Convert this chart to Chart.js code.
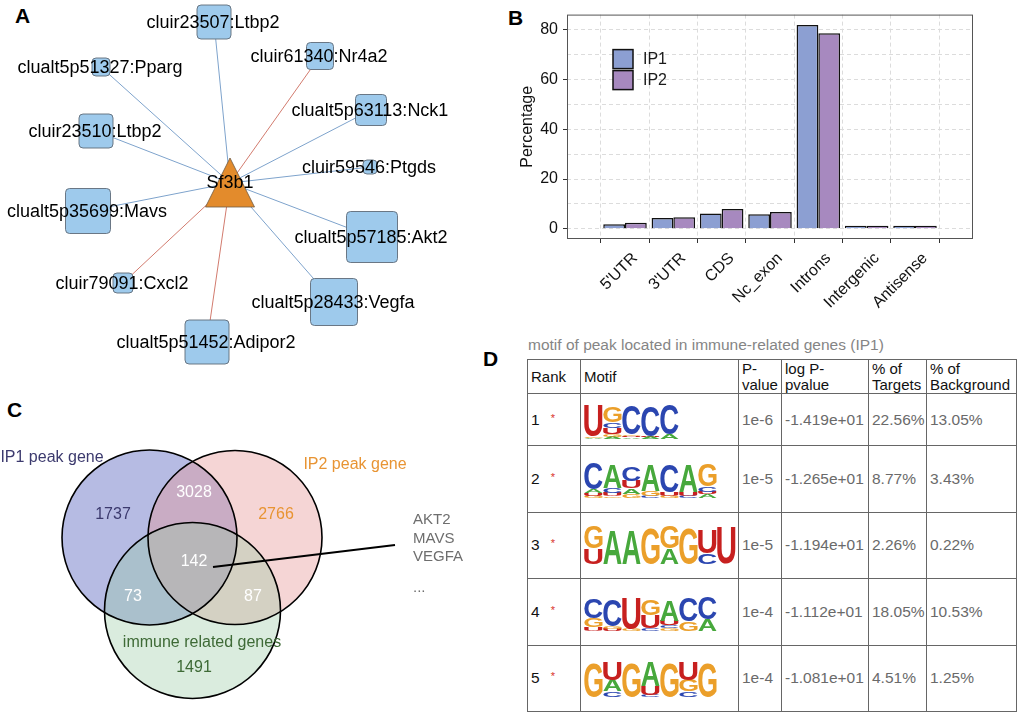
<!DOCTYPE html>
<html>
<head>
<meta charset="utf-8">
<script src="https://cdn.jsdelivr.net/npm/chart.js@4.4.1/dist/chart.umd.min.js"></script>
<style>
  html, body { margin: 0; padding: 0; background: #fff; width: 1017px; height: 712px; overflow: hidden;
    font-family: "Liberation Sans", Arial, Helvetica, sans-serif; }
  canvas { position: absolute; display: block; }
  .tag { position: absolute; font-weight: bold; font-size: 21px; line-height: 1; color: #000; }
  #motif-title { position: absolute; left: 528px; top: 337px; font-size: 15.5px; line-height: 15px; color: #858585; white-space: nowrap; }
  #motif-table { position: absolute; left: 527px; top: 359px; border-collapse: collapse; table-layout: fixed; font-size: 15.5px; }
  #motif-table td { border: 1.5px solid #666; padding: 0 0 0 3px; vertical-align: middle; white-space: nowrap; overflow: hidden; color: #6a6a6a; }
  #motif-table tr.head td { color: #111; line-height: 16px; font-size: 15px; }
  #motif-table td.rank { color: #111; }
  #motif-table td.logo canvas { position: static; }
  .star { color: #d9342b; font-size: 11px; margin-left: 11px; position: relative; top: -3px; }
</style>
</head>
<body>
<div class="tag" style="left:15px;top:5px">A</div>
<div class="tag" style="left:508px;top:7px">B</div>
<div class="tag" style="left:7px;top:399px">C</div>
<div class="tag" style="left:483px;top:348px">D</div>

<canvas id="net" width="470" height="370" style="left:0;top:0"></canvas>
<canvas id="venn" width="500" height="342" style="left:0;top:370px"></canvas>
<canvas id="bars" width="517" height="330" style="left:500px;top:0"></canvas>

<div id="motif-title">motif of peak located in immune-related genes (IP1)</div>
<table id="motif-table">
  <colgroup>
    <col style="width:53px"><col style="width:158px"><col style="width:43px">
    <col style="width:87px"><col style="width:58px"><col style="width:90px">
  </colgroup>
  <tbody id="motif-body">
    <tr class="head" style="height:34px">
      <td>Rank</td><td>Motif</td><td>P-<br>value</td><td>log P-<br>pvalue</td><td>% of<br>Targets</td><td>% of<br>Background</td>
    </tr>
  </tbody>
</table>

<script>
// ---- A: network ----
const nodeLabels = ['cluir23507:Ltbp2', 'clualt5p51327:Pparg', 'cluir61340:Nr4a2', 'clualt5p63113:Nck1',
  'cluir23510:Ltbp2', 'cluir59546:Ptgds', 'clualt5p35699:Mavs', 'clualt5p57185:Akt2',
  'cluir79091:Cxcl2', 'clualt5p28433:Vegfa', 'clualt5p51452:Adipor2'];
const nodeX = [214, 101, 320, 371, 96, 370, 88, 372, 123, 334, 207];
const nodeY = [22, 67, 56, 110, 131, 167, 211, 237, 283, 302, 342];
const nodeSize = [34, 18, 27, 31, 34, 14, 45, 51, 20, 47, 44];
const edgeType = ['blue', 'blue', 'red', 'blue', 'blue', 'blue', 'blue', 'blue', 'red', 'blue', 'red'];
const hubLabel = 'Sf3b1';
const hubX = 230, hubY = 183;

// ---- B: peak distribution ----
const regions = ["5'UTR", "3'UTR", 'CDS', 'Nc_exon', 'Introns', 'Intergenic', 'Antisense'];
const ip1Pct = [1.8, 4.3, 6.2, 5.8, 81.9, 0.3, 0.2];
const ip2Pct = [2.4, 4.6, 8.0, 6.8, 78.6, 0.3, 0.2];
const pctTicks = [0, 10, 20, 30, 40, 50, 60, 70, 80];

// ---- C: venn ----
const setNames = ['IP1 peak gene', 'IP2 peak gene', 'immune related genes'];
const circleX = [149.5, 235, 192.5];
const circleY = [537.5, 537.5, 610.5];
const circleR = [87.5, 87, 88];
const regionCounts = [1737, 3028, 2766, 142, 73, 87, 1491];
const countX = [113, 194, 276, 194, 133, 253, 194];
const countY = [515, 493, 515, 562, 597, 597, 668];
const sharedGenes = ['AKT2', 'MAVS', 'VEGFA', '...'];

// ---- D: motif table ----
const motifRank = [1, 2, 3, 4, 5];
const motifPvalue = ['1e-6', '1e-5', '1e-5', '1e-4', '1e-4'];
const motifLogP = ['-1.419e+01', '-1.265e+01', '-1.194e+01', '-1.112e+01', '-1.081e+01'];
const motifTargets = ['22.56%', '8.77%', '2.26%', '18.05%', '4.51%'];
const motifBackground = ['13.05%', '3.43%', '0.22%', '10.53%', '1.25%'];
// letter stacks per position, bottom -> top, heights in bits
const motif1 = [
  [['A', 0.06], ['G', 0.06], ['U', 1.62]],
  [['A', 0.12], ['G', 0.12], ['U', 0.35], ['C', 0.3], ['G', 0.85]],
  [['A', 0.08], ['U', 0.06], ['G', 0.08], ['C', 1.55]],
  [['A', 0.1], ['U', 0.06], ['C', 1.6]],
  [['A', 0.25], ['C', 1.6]],
];
const motif2 = [
  [['G', 0.12], ['U', 0.15], ['A', 0.2], ['C', 1.4]],
  [['G', 0.08], ['U', 0.18], ['C', 0.25], ['A', 1.2]],
  [['G', 0.2], ['A', 0.3], ['U', 0.4], ['C', 0.75]],
  [['C', 0.12], ['G', 0.25], ['A', 1.35]],
  [['G', 0.1], ['U', 0.2], ['C', 1.45]],
  [['C', 0.1], ['U', 0.2], ['A', 1.45]],
  [['A', 0.2], ['U', 0.12], ['C', 0.3], ['G', 1.15]],
];
const motif3 = [
  [['U', 0.8], ['G', 1.15]],
  [['A', 1.8]],
  [['A', 1.8]],
  [['G', 1.85]],
  [['A', 0.8], ['G', 1.15]],
  [['G', 1.85]],
  [['C', 0.55], ['U', 1.25]],
  [['U', 1.9]],
];
const motif4 = [
  [['U', 0.2], ['G', 0.45], ['C', 1.0]],
  [['U', 0.1], ['G', 0.15], ['C', 1.4]],
  [['G', 0.1], ['U', 1.65]],
  [['C', 0.15], ['U', 0.7], ['G', 0.85]],
  [['G', 0.15], ['C', 0.15], ['U', 0.25], ['A', 1.1]],
  [['G', 0.5], ['C', 1.25]],
  [['A', 0.6], ['C', 1.2]],
];
const motif5 = [
  [['G', 1.8]],
  [['C', 0.3], ['A', 0.6], ['U', 0.95]],
  [['G', 1.8]],
  [['C', 0.12], ['U', 0.45], ['A', 1.3]],
  [['G', 1.8]],
  [['C', 0.3], ['G', 0.6], ['U', 0.95]],
  [['G', 1.8]],
];
const motifLogos = [motif1, motif2, motif3, motif4, motif5];

const FONT = '"Liberation Sans", Arial, Helvetica, sans-serif';
Chart.defaults.font.family = FONT;
Chart.defaults.color = '#1a1a1a';
Chart.defaults.animation = false;

const hiddenScale = (min, max, reverse) => ({ type: 'linear', display: false, min, max, reverse: !!reverse });
const noChrome = { legend: { display: false }, tooltip: { enabled: false } };

// ---------- A ----------
const networkPlugin = {
  id: 'network',
  afterDatasetsDraw(chart) {
    const ctx = chart.ctx;
    const hub = chart.getDatasetMeta(nodeLabels.length).data[0];
    ctx.save();
    ctx.beginPath();
    ctx.moveTo(hub.x, hub.y - 25);
    ctx.lineTo(hub.x + 24.5, hub.y + 24);
    ctx.lineTo(hub.x - 24.5, hub.y + 24);
    ctx.closePath();
    ctx.fillStyle = '#e38b2c';
    ctx.fill();
    ctx.strokeStyle = '#6e5b44';
    ctx.lineWidth = 0.8;
    ctx.stroke();

    const nodes = chart.getDatasetMeta(nodeLabels.length + 1).data;
    nodes.forEach((pt, i) => {
      const s = nodeSize[i];
      ctx.beginPath();
      ctx.roundRect(pt.x - s / 2, pt.y - s / 2, s, s, 4);
      ctx.fillStyle = '#9ecaec';
      ctx.fill();
      ctx.strokeStyle = '#5f6b78';
      ctx.lineWidth = 0.9;
      ctx.stroke();
    });

    ctx.fillStyle = '#000';
    ctx.font = '18px ' + FONT;
    ctx.textAlign = 'center';
    ctx.textBaseline = 'middle';
    nodes.forEach((pt, i) => ctx.fillText(nodeLabels[i], pt.x - 1, pt.y + 1));
    ctx.fillText(hubLabel, hub.x, hub.y);
    ctx.restore();
  },
};

const edgeDatasets = nodeLabels.map((_, i) => ({
  type: 'line',
  data: [{ x: hubX, y: hubY }, { x: nodeX[i], y: nodeY[i] }],
  borderColor: edgeType[i] === 'red' ? '#d27b6e' : '#7ea3cc',
  borderWidth: 1,
  pointRadius: 0,
}));

new Chart(document.getElementById('net'), {
  type: 'scatter',
  data: {
    datasets: [
      ...edgeDatasets,
      { data: [{ x: hubX, y: hubY }], pointRadius: 0 },
      { data: nodeLabels.map((_, i) => ({ x: nodeX[i], y: nodeY[i] })), pointRadius: 0 },
    ],
  },
  options: {
    responsive: false,
    layout: { padding: 0, autoPadding: false },
    plugins: noChrome,
    scales: { x: hiddenScale(0, 470), y: hiddenScale(0, 370, true) },
  },
  plugins: [networkPlugin],
});

// ---------- B ----------
const framePlugin = {
  id: 'frame',
  afterDraw(chart) {
    const { left, top, right, bottom } = chart.chartArea;
    const ctx = chart.ctx;
    ctx.save();
    ctx.strokeStyle = '#555';
    ctx.lineWidth = 1;
    ctx.strokeRect(left + 0.5, top + 0.5, right - left - 1, bottom - top - 1);
    ctx.restore();
  },
};

const insideLegend = {
  id: 'insideLegend',
  afterDraw(chart) {
    const ctx = chart.ctx;
    const x0 = chart.chartArea.left + 46;
    const y0 = chart.chartArea.top + 35;
    ctx.save();
    chart.data.datasets.forEach((ds, i) => {
      const y = y0 + i * 21;
      ctx.fillStyle = ds.backgroundColor;
      ctx.fillRect(x0, y, 20, 19);
      ctx.strokeStyle = '#111';
      ctx.lineWidth = 1.5;
      ctx.strokeRect(x0, y, 20, 19);
      ctx.fillStyle = '#1a1a1a';
      ctx.font = '16px ' + FONT;
      ctx.textBaseline = 'middle';
      ctx.fillText(ds.label, x0 + 30, y + 10);
    });
    ctx.restore();
  },
};

new Chart(document.getElementById('bars'), {
  type: 'bar',
  data: {
    datasets: [
      { label: 'IP1', data: regions.map((_, i) => ({ x: i, y: ip1Pct[i] })), backgroundColor: '#8c9fd2' },
      { label: 'IP2', data: regions.map((_, i) => ({ x: i, y: ip2Pct[i] })), backgroundColor: '#a789bf' },
    ].map((ds) => ({ ...ds, borderColor: '#111', borderWidth: 1.5, minBarLength: 3,
      categoryPercentage: 0.9, barPercentage: 1 })),
  },
  options: {
    responsive: false,
    layout: { padding: { top: 1, right: 44, left: 0, bottom: 0 }, autoPadding: false },
    plugins: noChrome,
    scales: {
      x: {
        type: 'linear', min: -0.6, max: 6.6,
        afterBuildTicks: (s) => { s.ticks = regions.map((_, i) => ({ value: i })); },
        afterFit: (s) => { s.height = 91; },
        ticks: { callback: (v) => regions[v], minRotation: 45, maxRotation: 45, autoSkip: false,
          font: { size: 16 }, color: '#111', padding: 6, labelOffset: 10 },
        grid: { color: '#dcdcdc', tickColor: '#333', tickLength: 4, tickBorderDash: [] },
        border: { display: false, dash: [4, 3] },
      },
      y: {
        min: -4.1, max: 86.1,
        afterBuildTicks: (s) => { s.ticks = pctTicks.map((v) => ({ value: v })); },
        afterFit: (s) => { s.width = 67; },
        ticks: { callback: (v) => (v % 20 === 0 ? v : ''), font: { size: 16 }, color: '#111', padding: 5 },
        grid: {
          color: '#dcdcdc', tickLength: 4, tickBorderDash: [],
          tickColor: (c) => (c.tick && c.tick.value % 20 === 0 ? '#333' : 'rgba(0,0,0,0)'),
        },
        border: { display: false, dash: [4, 3] },
        title: { display: true, text: 'Percentage', font: { size: 16 }, color: '#111', padding: { top: 18, bottom: 0 } },
      },
    },
  },
  plugins: [framePlugin, insideLegend],
});

// ---------- C ----------
const setFill = ['rgba(110,120,200,0.5)', 'rgba(230,150,150,0.4)', 'rgba(150,200,160,0.35)'];
const countColor = ['#3c3a6e', '#fff', '#e89433', '#fff', '#fff', '#fff', '#3e6a36'];
const vennText = {
  id: 'vennText',
  afterDatasetsDraw(chart) {
    const ctx = chart.ctx;
    const sx = chart.scales.x, sy = chart.scales.y;
    ctx.save();
    ctx.textAlign = 'center';
    ctx.textBaseline = 'middle';
    ctx.font = '16px ' + FONT;
    regionCounts.forEach((n, i) => {
      ctx.fillStyle = countColor[i];
      ctx.fillText(String(n), sx.getPixelForValue(countX[i]), sy.getPixelForValue(countY[i]));
    });
    const nameX = [52, 355, 202], nameY = [458, 465, 643];
    const nameColor = ['#3c3a6e', '#e89433', '#3e6a36'];
    setNames.forEach((t, i) => {
      ctx.fillStyle = nameColor[i];
      ctx.fillText(t, sx.getPixelForValue(nameX[i]), sy.getPixelForValue(nameY[i]));
    });
    ctx.textAlign = 'left';
    ctx.font = '15px ' + FONT;
    ctx.fillStyle = '#6e6e6e';
    const geneY = [520, 539, 557, 588];
    sharedGenes.forEach((g, i) => ctx.fillText(g, sx.getPixelForValue(413), sy.getPixelForValue(geneY[i])));
    ctx.restore();
  },
};

const circles = setNames.map((_, i) => ({ x: circleX[i], y: circleY[i], r: circleR[i] }));
new Chart(document.getElementById('venn'), {
  type: 'bubble',
  data: {
    datasets: [
      { type: 'line', data: [{ x: 213, y: 567 }, { x: 395, y: 545 }], borderColor: '#000', borderWidth: 2, pointRadius: 0, order: 1 },
      { data: circles, backgroundColor: 'rgba(0,0,0,0)', borderColor: '#000', borderWidth: 1.6, order: 2 },
      { data: circles, backgroundColor: setFill, borderWidth: 0, order: 3 },
    ],
  },
  options: {
    responsive: false,
    layout: { padding: 0, autoPadding: false },
    plugins: noChrome,
    scales: { x: hiddenScale(0, 500), y: hiddenScale(370, 712, true) },
  },
  plugins: [vennText],
});

// ---------- D ----------
const letterColor = { A: '#47a83c', C: '#2b46b0', G: '#eb9f2a', U: '#c7201f' };
const logoPlugin = {
  id: 'logoLetters',
  afterDatasetsDraw(chart) {
    const ctx = chart.ctx;
    ctx.save();
    ctx.font = 'bold 100px ' + FONT;
    ctx.textAlign = 'left';
    ctx.textBaseline = 'alphabetic';
    chart.data.datasets.forEach((ds, d) => {
      chart.getDatasetMeta(d).data.forEach((bar, p) => {
        const ch = ds.letters[p];
        const h = Math.abs(bar.base - bar.y);
        if (!ch || h < 0.3) return;
        const w = bar.width * 0.96;
        const m = ctx.measureText(ch);
        const gw = m.actualBoundingBoxLeft + m.actualBoundingBoxRight;
        const gh = m.actualBoundingBoxAscent + m.actualBoundingBoxDescent;
        ctx.save();
        ctx.translate(bar.x - w / 2, Math.min(bar.y, bar.base));
        ctx.scale(w / gw, h / gh);
        ctx.fillStyle = letterColor[ch];
        ctx.fillText(ch, m.actualBoundingBoxLeft, m.actualBoundingBoxAscent);
        ctx.restore();
      });
    });
    ctx.restore();
  },
};

function drawLogo(canvas, columns) {
  const layers = Math.max(...columns.map((c) => c.length));
  const datasets = [];
  for (let k = 0; k < layers; k++) {
    datasets.push({
      data: columns.map((c) => (c[k] ? c[k][1] : 0)),
      letters: columns.map((c) => (c[k] ? c[k][0] : null)),
      backgroundColor: 'rgba(0,0,0,0)',
      borderWidth: 0,
      barPercentage: 1,
      categoryPercentage: 1,
    });
  }
  new Chart(canvas, {
    type: 'bar',
    data: { labels: columns.map((_, i) => i + 1), datasets },
    options: {
      responsive: false,
      layout: { padding: 0, autoPadding: false },
      plugins: noChrome,
      scales: {
        x: { display: false, stacked: true },
        y: { display: false, stacked: true, min: 0, max: 2 },
      },
    },
    plugins: [logoPlugin],
  });
}

const tbody = document.getElementById('motif-body');
motifRank.forEach((rank, i) => {
  const tr = document.createElement('tr');
  tr.style.height = (i === 0 ? 52 : 66.5) + 'px';

  const rankTd = document.createElement('td');
  rankTd.className = 'rank';
  rankTd.innerHTML = rank + '<span class="star">*</span>';
  tr.appendChild(rankTd);

  const logoTd = document.createElement('td');
  logoTd.className = 'logo';
  const cv = document.createElement('canvas');
  cv.width = 19 * motifLogos[i].length;
  cv.height = 38;
  logoTd.appendChild(cv);
  tr.appendChild(logoTd);

  [motifPvalue[i], motifLogP[i], motifTargets[i], motifBackground[i]].forEach((text) => {
    const td = document.createElement('td');
    td.textContent = text;
    tr.appendChild(td);
  });
  tbody.appendChild(tr);
  drawLogo(cv, motifLogos[i]);
});
</script>
</body>
</html>
